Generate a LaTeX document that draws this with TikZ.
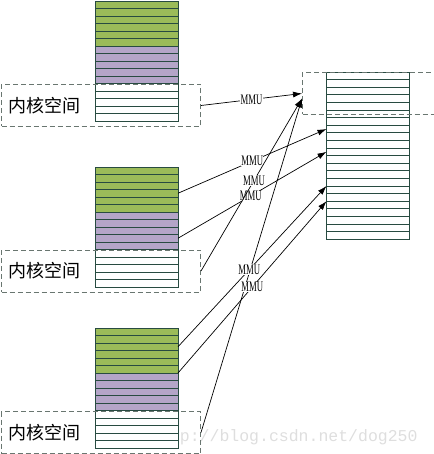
\documentclass[tikz,border=0pt]{standalone}
\usepackage{fontspec}
\setmainfont{Liberation Serif}
\setmonofont{Liberation Mono}
\newfontfamily\cjk{Noto Sans CJK SC}
\definecolor{pggreen}{RGB}{155,187,89}
\definecolor{pgpurple}{RGB}{180,165,200}
\definecolor{pgline}{RGB}{40,75,65}
\definecolor{pgdash}{RGB}{105,118,112}
\definecolor{pgmark}{RGB}{222,222,222}
\usetikzlibrary{arrows.meta,positioning}

\begin{document}
\begin{tikzpicture}[
  x=1pt,y=-1pt,
  pgrow/.style={draw=pgline,line width=0.8pt,minimum width=83pt,minimum height=7.5pt,
    inner sep=0pt,outer sep=0pt,anchor=north west},
  memrow/.style={pgrow,minimum height=7.6pt},
  kbox/.style={draw=pgdash,dash pattern=on 5pt off 3pt,line width=1pt,
    minimum width=199pt,minimum height=42pt,inner sep=0pt,anchor=north west},
  klabel/.style={font=\cjk\fontsize{18}{18}\selectfont,inner sep=0pt},
  maplink/.style={-{Latex[length=9pt,width=6pt]},line width=0.7pt},
  mmu/.style={fill=white,inner sep=0.3pt,font=\fontsize{14.5}{14.5}\selectfont}
]
  \useasboundingbox (0,0) rectangle (433,454);

  % watermark
  \node[anchor=base west,inner sep=0pt,text=pgmark,font=\ttfamily\fontsize{16.5}{16.5}\selectfont]
    (mark) at (150,441) {http://blog.csdn.net/dog250};

  % three process address spaces: 6 green, 5 purple, 5 kernel rows
  \foreach \s/\top in {a/1,b/167,c/328} {
    \foreach \i in {0,...,5}
      \node[pgrow,fill=pggreen] (\s-\i) at (95,\top+7.5*\i) {};
    \foreach \i in {6,...,10}
      \node[pgrow,fill=pgpurple] (\s-\i) at (95,\top+7.5*\i) {};
    \foreach \i in {11,...,15}
      \node[pgrow,fill=white] (\s-\i) at (95,\top+7.5*\i) {};
  }

  % kernel space boxes
  \node[kbox] (ka) at (1,84) {};
  \node[kbox] (kb) at (1,249.5) {};
  \node[kbox] (kc) at (1,411) {};
  \foreach \k in {ka,kb,kc}
    \node[klabel,right=7pt of \k.west] (\k-text) {内核空间};

  % physical memory
  \foreach \i in {0,...,21}
    \node[memrow,fill=white] (m-\i) at (326.5,72+7.6*\i) {};
  \node[kbox,minimum width=135pt] (km) at (302,72) {};

  % mappings
  \draw[maplink] (kc.east) -- ([yshift=-5pt]km.west);
  \draw[maplink] (ka.east) -- node[mmu] {\scalebox{0.6}[1]{MMU}} (km.west);
  \draw[maplink] (b-3.east) -- node[mmu] {\scalebox{0.6}[1]{MMU}} (m-7.west);
  \draw[maplink] (b-9.east) -- node[mmu,pos=0.49] {\scalebox{0.6}[1]{MMU}} (m-10.west);
  \draw[maplink] (kb.east) -- node[mmu,pos=0.525] {\scalebox{0.6}[1]{MMU}} ([yshift=-5pt]km.west);
  \draw[maplink] (c-2.east) -- node[mmu,pos=0.48] {\scalebox{0.6}[1]{MMU}} (m-14.south west);
  \draw[maplink] (c-6.north east) -- node[mmu,pos=0.5] {\scalebox{0.6}[1]{MMU}} (m-16.south west);
\end{tikzpicture}
\end{document}
